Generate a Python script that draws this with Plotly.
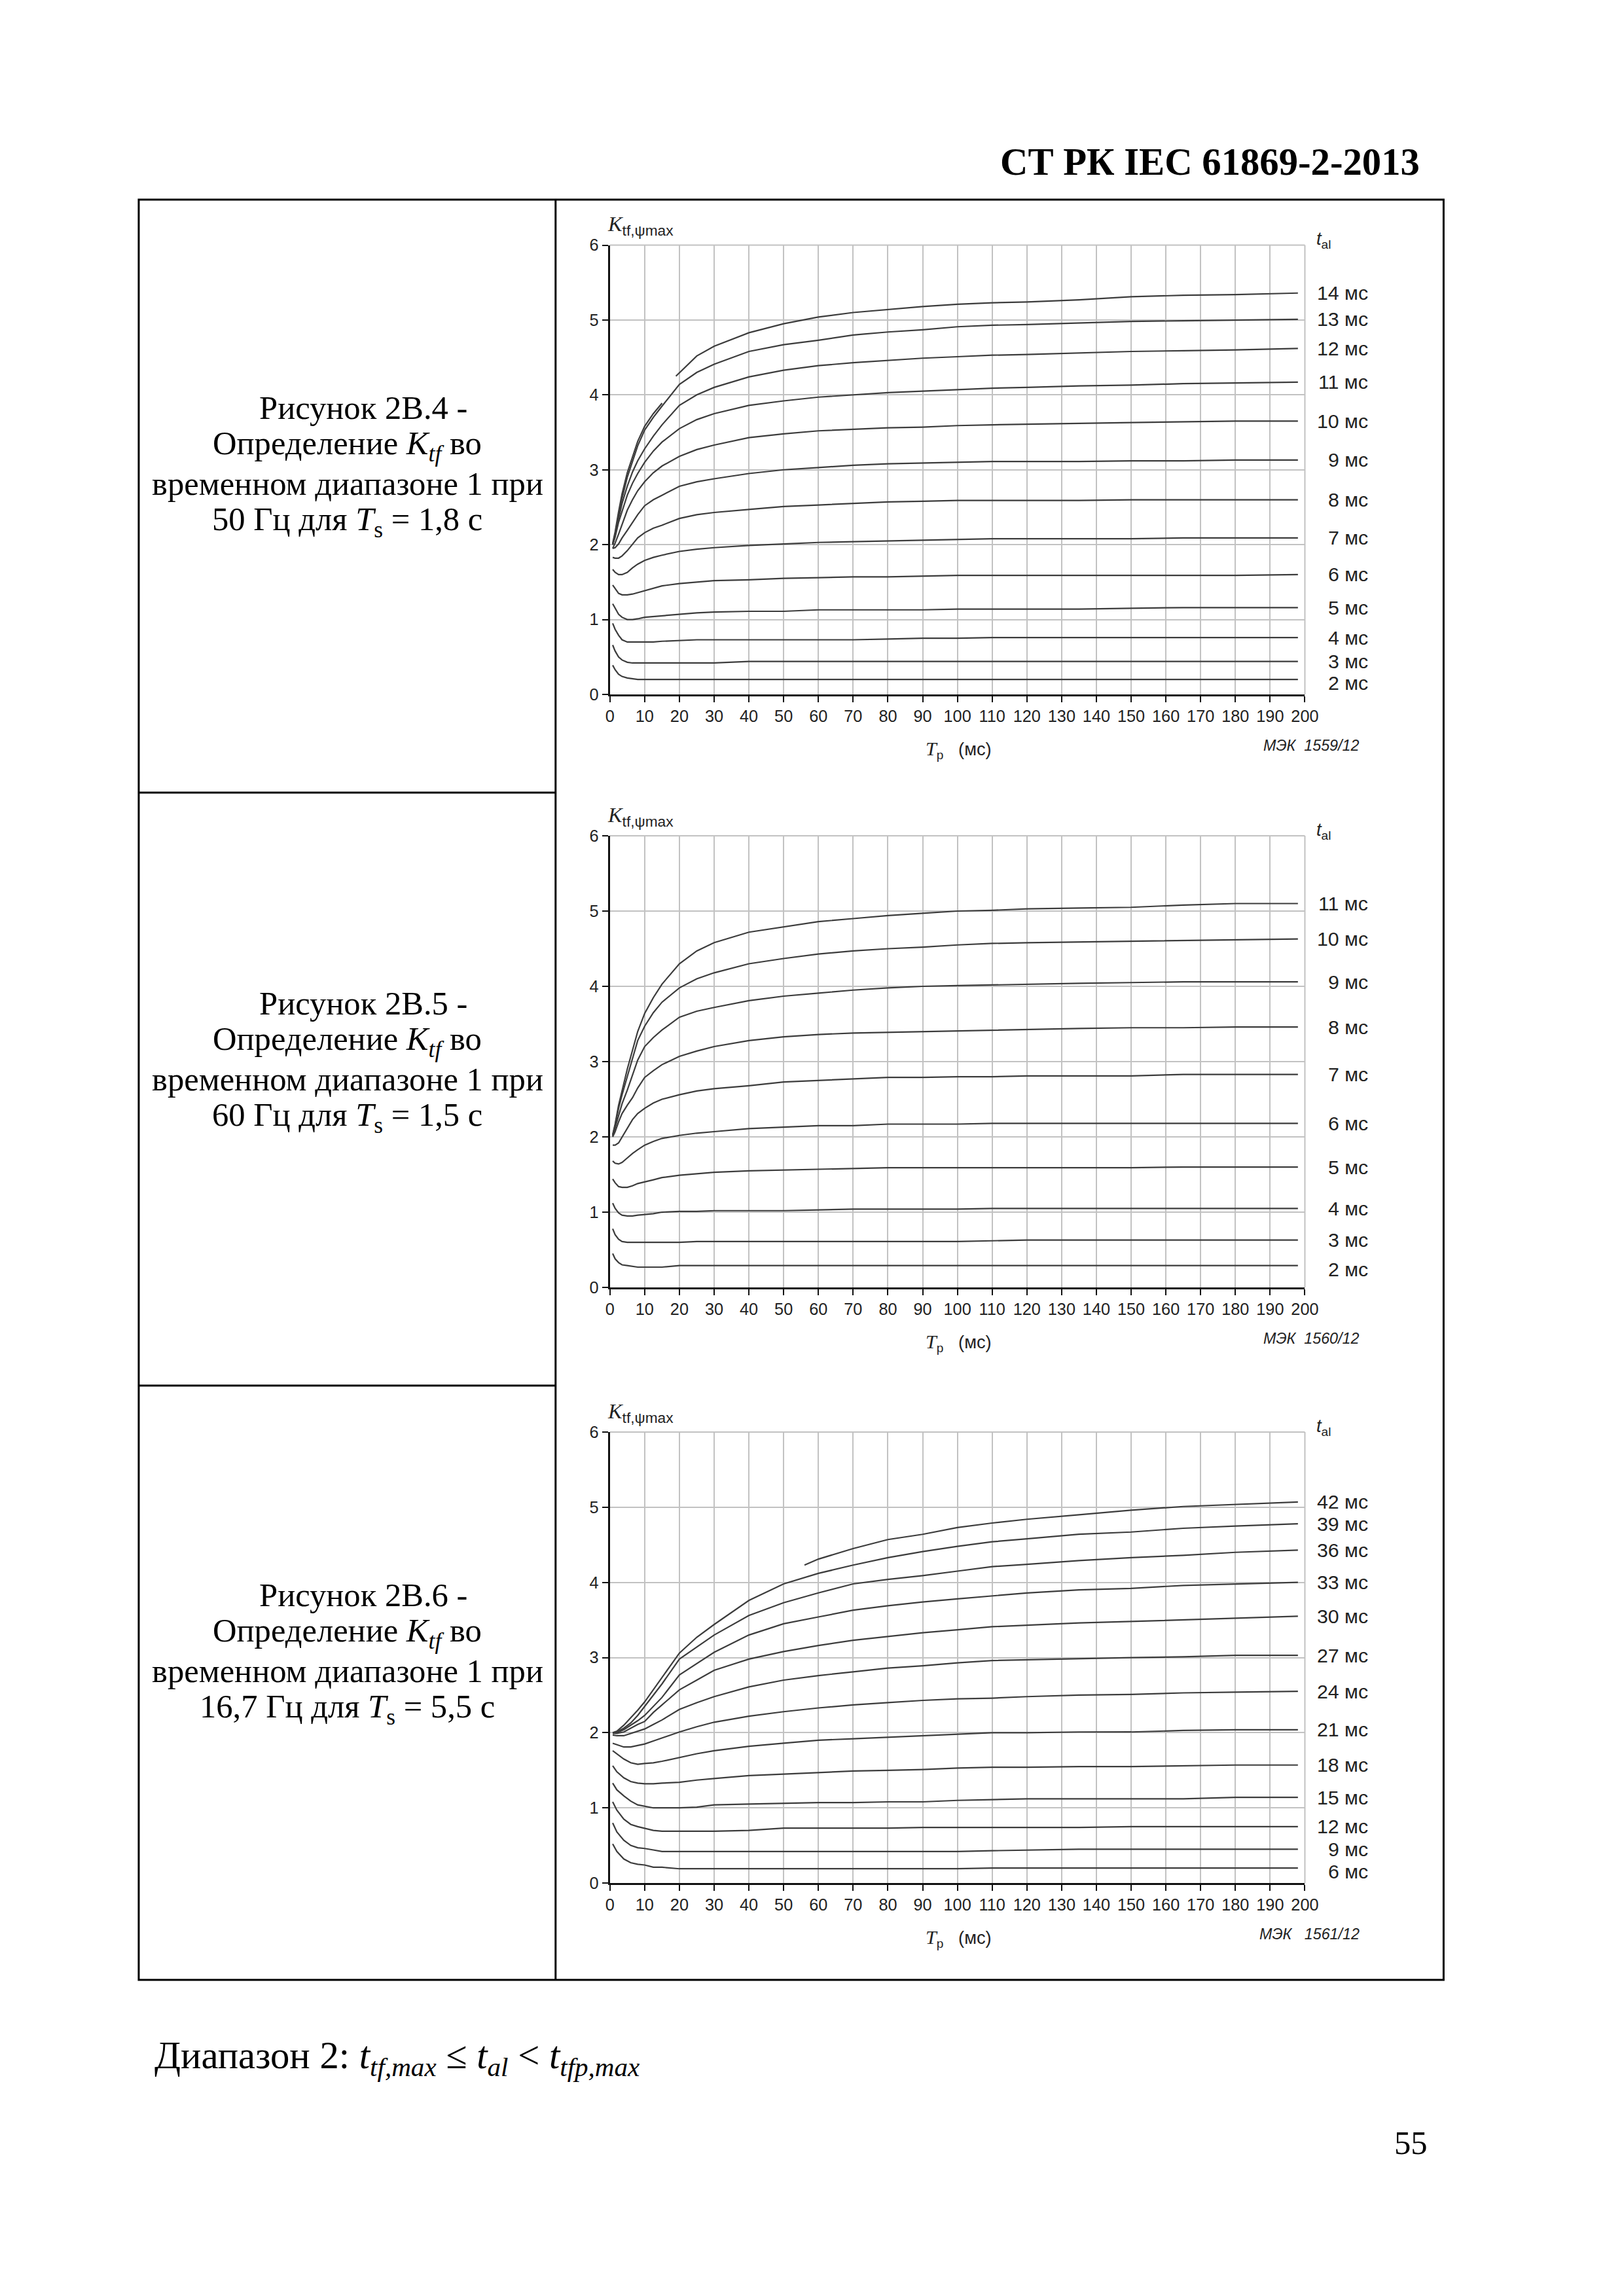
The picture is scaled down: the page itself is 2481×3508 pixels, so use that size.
import plotly.graph_objects as go

# ---------------- data ----------------
TP_TICKS = list(range(0, 201, 10))
K_TICKS = [0, 1, 2, 3, 4, 5, 6]

# common Tp grid (ms) for Fig. 2B.4 and 2B.5
TP_A = [0.8, 1.5, 2.5, 3.5, 5, 6.5, 8, 10, 12.5, 15, 20, 25, 30, 40, 50, 60, 70, 80,
        90, 100, 110, 120, 135, 150, 165, 180, 198]

# Fig 2B.4 (50 Hz, Ts = 1.8 s)
F50_LABELS = ["2 мс", "3 мс", "4 мс", "5 мс", "6 мс", "7 мс", "8 мс", "9 мс", "10 мс", "11 мс", "12 мс", "13 мс"]
F50_2 = [0.39, 0.33, 0.27, 0.24, 0.22, 0.21, 0.20, 0.20, 0.20, 0.20, 0.20, 0.20, 0.20, 0.20, 0.20, 0.20, 0.20, 0.20, 0.20, 0.20, 0.20, 0.20, 0.20, 0.20, 0.20, 0.20, 0.20]
F50_3 = [0.66, 0.58, 0.50, 0.46, 0.43, 0.42, 0.42, 0.42, 0.42, 0.42, 0.42, 0.42, 0.42, 0.44, 0.44, 0.44, 0.44, 0.44, 0.44, 0.44, 0.44, 0.44, 0.44, 0.44, 0.44, 0.44, 0.44]
F50_4 = [0.95, 0.87, 0.79, 0.73, 0.70, 0.70, 0.70, 0.70, 0.70, 0.71, 0.72, 0.73, 0.73, 0.73, 0.73, 0.73, 0.73, 0.74, 0.75, 0.75, 0.76, 0.76, 0.76, 0.76, 0.76, 0.76, 0.76]
F50_5 = [1.21, 1.15, 1.07, 1.03, 1.00, 1.00, 1.01, 1.03, 1.04, 1.05, 1.07, 1.09, 1.10, 1.11, 1.11, 1.13, 1.13, 1.13, 1.13, 1.14, 1.14, 1.14, 1.14, 1.15, 1.16, 1.16, 1.16]
F50_6 = [1.46, 1.41, 1.35, 1.33, 1.33, 1.34, 1.36, 1.39, 1.42, 1.45, 1.48, 1.50, 1.52, 1.53, 1.55, 1.56, 1.57, 1.57, 1.58, 1.59, 1.59, 1.59, 1.59, 1.59, 1.59, 1.59, 1.60]
F50_7 = [1.67, 1.63, 1.60, 1.60, 1.63, 1.69, 1.74, 1.79, 1.83, 1.86, 1.91, 1.94, 1.96, 1.99, 2.01, 2.03, 2.04, 2.05, 2.06, 2.07, 2.08, 2.08, 2.08, 2.08, 2.09, 2.09, 2.09]
F50_8 = [1.83, 1.82, 1.82, 1.85, 1.92, 2.01, 2.09, 2.16, 2.22, 2.26, 2.35, 2.40, 2.43, 2.47, 2.51, 2.53, 2.55, 2.57, 2.58, 2.59, 2.59, 2.59, 2.59, 2.60, 2.60, 2.60, 2.60]
F50_9 = [1.95, 1.96, 2.01, 2.09, 2.19, 2.30, 2.40, 2.52, 2.60, 2.66, 2.78, 2.84, 2.88, 2.95, 3.00, 3.03, 3.06, 3.08, 3.09, 3.10, 3.11, 3.11, 3.11, 3.12, 3.12, 3.13, 3.13]
F50_10 = [1.95, 2.02, 2.14, 2.27, 2.46, 2.60, 2.72, 2.84, 2.96, 3.05, 3.18, 3.27, 3.33, 3.43, 3.48, 3.52, 3.54, 3.56, 3.57, 3.59, 3.60, 3.61, 3.62, 3.63, 3.64, 3.65, 3.65]
F50_11 = [2.00, 2.10, 2.30, 2.45, 2.66, 2.82, 2.95, 3.10, 3.25, 3.37, 3.55, 3.67, 3.75, 3.86, 3.92, 3.97, 4.00, 4.03, 4.05, 4.07, 4.09, 4.10, 4.12, 4.13, 4.15, 4.16, 4.17]
F50_12 = [2.00, 2.12, 2.35, 2.55, 2.78, 2.97, 3.12, 3.28, 3.45, 3.60, 3.86, 4.00, 4.10, 4.24, 4.33, 4.39, 4.43, 4.46, 4.49, 4.51, 4.53, 4.54, 4.56, 4.58, 4.59, 4.60, 4.62]
F50_13 = [2.00, 2.14, 2.40, 2.62, 2.90, 3.12, 3.32, 3.53, 3.70, 3.85, 4.14, 4.30, 4.41, 4.58, 4.67, 4.73, 4.80, 4.84, 4.87, 4.91, 4.93, 4.94, 4.96, 4.98, 4.99, 5.00, 5.01]
# 14 ms curve: early part (runs along 13 ms) and main part from Tp = 19 ms
F50_14_TP_EARLY = [0.8, 1.5, 2.5, 3.5, 5, 6.5, 8, 10, 12.5, 15]
F50_14_EARLY = [2.02, 2.17, 2.44, 2.68, 2.96, 3.18, 3.38, 3.58, 3.75, 3.89]
F50_14_TP = [19, 21.5, 25, 30, 35, 40, 50, 60, 70, 80, 90, 100, 110, 120, 135, 150, 165, 180, 198]
F50_14 = [4.25, 4.36, 4.52, 4.65, 4.74, 4.83, 4.95, 5.04, 5.10, 5.14, 5.18, 5.21, 5.23, 5.24, 5.27, 5.31, 5.33, 5.34, 5.36]

# Fig 2B.5 (60 Hz, Ts = 1.5 s)
F60_LABELS = ["2 мс", "3 мс", "4 мс", "5 мс", "6 мс", "7 мс", "8 мс", "9 мс", "10 мс", "11 мс"]
F60_2 = [0.45, 0.38, 0.33, 0.30, 0.29, 0.28, 0.27, 0.27, 0.27, 0.27, 0.29, 0.29, 0.29, 0.29, 0.29, 0.29, 0.29, 0.29, 0.29, 0.29, 0.29, 0.29, 0.29, 0.29, 0.29, 0.29, 0.29]
F60_3 = [0.78, 0.70, 0.64, 0.61, 0.60, 0.60, 0.60, 0.60, 0.60, 0.60, 0.60, 0.61, 0.61, 0.61, 0.61, 0.61, 0.61, 0.61, 0.61, 0.61, 0.62, 0.63, 0.63, 0.63, 0.63, 0.63, 0.63]
F60_4 = [1.12, 1.05, 0.99, 0.96, 0.95, 0.95, 0.96, 0.97, 0.98, 1.00, 1.01, 1.01, 1.02, 1.02, 1.02, 1.03, 1.04, 1.04, 1.04, 1.04, 1.05, 1.05, 1.05, 1.05, 1.05, 1.05, 1.05]
F60_5 = [1.44, 1.39, 1.34, 1.33, 1.33, 1.35, 1.38, 1.40, 1.43, 1.46, 1.49, 1.51, 1.53, 1.55, 1.56, 1.57, 1.58, 1.59, 1.59, 1.59, 1.59, 1.59, 1.59, 1.59, 1.60, 1.60, 1.60]
F60_6 = [1.68, 1.65, 1.64, 1.66, 1.72, 1.78, 1.83, 1.89, 1.94, 1.98, 2.02, 2.05, 2.07, 2.11, 2.13, 2.15, 2.15, 2.17, 2.17, 2.17, 2.18, 2.18, 2.18, 2.18, 2.18, 2.18, 2.18]
F60_7 = [1.89, 1.89, 1.92, 2.00, 2.12, 2.23, 2.31, 2.38, 2.45, 2.50, 2.56, 2.61, 2.64, 2.68, 2.73, 2.75, 2.77, 2.79, 2.79, 2.80, 2.80, 2.81, 2.81, 2.81, 2.83, 2.83, 2.83]
F60_8 = [2.00, 2.07, 2.20, 2.31, 2.42, 2.52, 2.65, 2.79, 2.88, 2.96, 3.07, 3.14, 3.20, 3.28, 3.33, 3.36, 3.38, 3.39, 3.40, 3.41, 3.42, 3.43, 3.44, 3.45, 3.45, 3.46, 3.46]
F60_9 = [2.01, 2.12, 2.30, 2.44, 2.62, 2.82, 3.02, 3.20, 3.32, 3.42, 3.59, 3.67, 3.72, 3.81, 3.87, 3.91, 3.95, 3.98, 4.00, 4.01, 4.02, 4.03, 4.04, 4.05, 4.06, 4.06, 4.06]
F60_10 = [2.02, 2.15, 2.38, 2.56, 2.80, 3.05, 3.28, 3.47, 3.65, 3.79, 3.98, 4.10, 4.18, 4.30, 4.37, 4.43, 4.47, 4.50, 4.52, 4.55, 4.57, 4.58, 4.59, 4.60, 4.61, 4.62, 4.63]
F60_11 = [2.03, 2.17, 2.42, 2.62, 2.90, 3.15, 3.40, 3.64, 3.85, 4.03, 4.30, 4.47, 4.58, 4.72, 4.79, 4.86, 4.90, 4.94, 4.97, 5.00, 5.01, 5.03, 5.04, 5.05, 5.08, 5.10, 5.10]

# Fig 2B.6 (16.7 Hz, Ts = 5.5 s)
TP_C = [0.8, 2, 4, 6, 8, 10, 12.5, 15, 20, 25, 30, 40, 50, 60, 70, 80, 90, 100, 110, 120, 135, 150, 165, 180, 198]
F17_LABELS = ["6 мс", "9 мс", "12 мс", "15 мс", "18 мс", "21 мс", "24 мс", "27 мс", "30 мс", "33 мс", "36 мс", "39 мс"]
F17_6 = [0.52, 0.42, 0.32, 0.27, 0.25, 0.24, 0.21, 0.21, 0.19, 0.19, 0.19, 0.19, 0.19, 0.19, 0.19, 0.19, 0.19, 0.19, 0.20, 0.20, 0.20, 0.20, 0.20, 0.20, 0.20]
F17_9 = [0.80, 0.68, 0.57, 0.50, 0.47, 0.46, 0.44, 0.42, 0.42, 0.42, 0.42, 0.42, 0.42, 0.42, 0.42, 0.42, 0.42, 0.42, 0.43, 0.44, 0.45, 0.45, 0.45, 0.45, 0.45]
F17_12 = [1.08, 0.97, 0.85, 0.78, 0.75, 0.73, 0.70, 0.69, 0.69, 0.69, 0.69, 0.70, 0.73, 0.73, 0.73, 0.73, 0.74, 0.74, 0.74, 0.74, 0.74, 0.75, 0.75, 0.75, 0.75]
F17_15 = [1.33, 1.24, 1.16, 1.09, 1.04, 1.02, 1.00, 1.00, 1.00, 1.01, 1.04, 1.05, 1.06, 1.07, 1.07, 1.08, 1.08, 1.10, 1.11, 1.12, 1.12, 1.12, 1.12, 1.14, 1.14]
F17_18 = [1.56, 1.48, 1.40, 1.35, 1.33, 1.32, 1.32, 1.33, 1.34, 1.37, 1.39, 1.43, 1.45, 1.47, 1.49, 1.50, 1.51, 1.53, 1.54, 1.54, 1.55, 1.55, 1.56, 1.57, 1.57]
F17_21 = [1.76, 1.72, 1.65, 1.60, 1.58, 1.59, 1.60, 1.62, 1.67, 1.72, 1.76, 1.82, 1.86, 1.90, 1.92, 1.94, 1.96, 1.98, 2.00, 2.00, 2.01, 2.01, 2.03, 2.04, 2.04]
F17_24 = [1.86, 1.84, 1.81, 1.81, 1.83, 1.85, 1.89, 1.93, 2.01, 2.08, 2.14, 2.22, 2.28, 2.33, 2.37, 2.40, 2.43, 2.45, 2.46, 2.48, 2.50, 2.51, 2.53, 2.54, 2.55]
F17_27 = [1.97, 1.96, 1.96, 1.99, 2.02, 2.05, 2.11, 2.17, 2.31, 2.40, 2.48, 2.61, 2.70, 2.76, 2.81, 2.86, 2.89, 2.93, 2.96, 2.97, 2.99, 3.00, 3.01, 3.03, 3.03]
F17_30 = [1.99, 1.99, 2.01, 2.06, 2.11, 2.15, 2.27, 2.37, 2.57, 2.70, 2.83, 2.98, 3.08, 3.16, 3.23, 3.28, 3.33, 3.37, 3.41, 3.43, 3.46, 3.48, 3.50, 3.52, 3.55]
F17_33 = [2.00, 2.00, 2.04, 2.10, 2.16, 2.23, 2.35, 2.47, 2.77, 2.92, 3.07, 3.30, 3.45, 3.54, 3.63, 3.69, 3.74, 3.78, 3.82, 3.86, 3.90, 3.92, 3.96, 3.98, 4.00]
F17_36 = [2.00, 2.01, 2.06, 2.13, 2.23, 2.35, 2.50, 2.65, 2.98, 3.14, 3.30, 3.56, 3.73, 3.86, 3.98, 4.04, 4.09, 4.15, 4.21, 4.24, 4.29, 4.33, 4.36, 4.40, 4.43]
F17_39 = [2.00, 2.02, 2.10, 2.20, 2.30, 2.41, 2.57, 2.73, 3.06, 3.27, 3.44, 3.76, 3.98, 4.12, 4.23, 4.33, 4.41, 4.48, 4.54, 4.58, 4.64, 4.67, 4.72, 4.75, 4.78]
F17_42_TP = [56, 60, 70, 80, 90, 100, 110, 120, 135, 150, 165, 180, 198]
F17_42 = [4.23, 4.31, 4.45, 4.57, 4.64, 4.73, 4.79, 4.84, 4.90, 4.96, 5.01, 5.04, 5.07]

FIG_CODES = ["МЭК  1559/12", "МЭК  1560/12", "МЭК   1561/12"]
CAPTIONS = [
    ["Рисунок 2В.4 -", "Определение <i>K</i><sub><i>tf</i></sub> во", "временном диапазоне 1 при",
     "50 Гц для <i>T</i><sub>s</sub> = 1,8 с"],
    ["Рисунок 2В.5 -", "Определение <i>K</i><sub><i>tf</i></sub> во", "временном диапазоне 1 при",
     "60 Гц для <i>T</i><sub>s</sub> = 1,5 с"],
    ["Рисунок 2В.6 -", "Определение <i>K</i><sub><i>tf</i></sub> во", "временном диапазоне 1 при",
     "16,7 Гц для <i>T</i><sub>s</sub> = 5,5 с"],
]

# ---------------- layout geometry (target page pixels) ----------------
# Measured in earlier renders: a figure pixel p lands on the page at about
# S*p + O (page margin plus a slight shrink), so target page positions are
# mapped back through that relation.
W, H = 2380, 3380
SX, OX = 0.9885, 7.0
SY, OY = 0.9917, 13.0
def fx(p): return ((p - OX) / SX) / W
def fy(p): return 1 - ((p - OY) / SY) / H
FS = 1.0 / SX   # font / size compensation

X_L, X_R = 932, 1994
PANELS = [(373.5, 1060), (1276, 1966), (2187, 2876)]   # (y of K=6, y of K=0)
TAB_L, TAB_R, TAB_T, TAB_B, TAB_MID = 212, 2206, 304, 3024, 849
ROW_LINES = [1210, 2116]
CAP_TOP = [622, 1532, 2436]

SANS = "Liberation Sans, Arial, sans-serif"
SERIF = "Liberation Serif, Times New Roman, serif"
LINE_COL = "#3c3c3c"
GRID_COL = "#c2c2c2"

fig = go.Figure()

def add_curve(i, xs, ys):
    ax = "" if i == 0 else str(i + 1)
    fig.add_trace(go.Scatter(x=xs, y=ys, mode="lines", xaxis="x" + ax, yaxis="y" + ax,
                             line=dict(color=LINE_COL, width=2.2), showlegend=False,
                             hoverinfo="skip"))

panel_series = [
    [(TP_A, s) for s in [F50_2, F50_3, F50_4, F50_5, F50_6, F50_7, F50_8, F50_9, F50_10, F50_11, F50_12, F50_13]]
    + [(F50_14_TP_EARLY, F50_14_EARLY), (F50_14_TP, F50_14)],
    [(TP_A, s) for s in [F60_2, F60_3, F60_4, F60_5, F60_6, F60_7, F60_8, F60_9, F60_10, F60_11]],
    [(TP_C, s) for s in [F17_6, F17_9, F17_12, F17_15, F17_18, F17_21, F17_24, F17_27, F17_30, F17_33, F17_36, F17_39]]
    + [(F17_42_TP, F17_42)],
]
panel_labels = [
    list(zip(F50_LABELS + ["14 мс"], [s[-1] for s in [F50_2, F50_3, F50_4, F50_5, F50_6, F50_7, F50_8, F50_9, F50_10, F50_11, F50_12, F50_13, F50_14]])),
    list(zip(F60_LABELS, [s[-1] for s in [F60_2, F60_3, F60_4, F60_5, F60_6, F60_7, F60_8, F60_9, F60_10, F60_11]])),
    list(zip(F17_LABELS + ["42 мс"], [s[-1] for s in [F17_6, F17_9, F17_12, F17_15, F17_18, F17_21, F17_24, F17_27, F17_30, F17_33, F17_36, F17_39, F17_42]])),
]

for i, series in enumerate(panel_series):
    for xs, ys in series:
        add_curve(i, xs, ys)

layout = dict(width=W, height=H, margin=dict(l=0, r=0, t=0, b=0, pad=0),
              paper_bgcolor="white", plot_bgcolor="white", showlegend=False)
annotations = []
shapes = []

def fs(v):
    return round(v * FS, 1)

for i, (y6, y0) in enumerate(PANELS):
    ax = "" if i == 0 else str(i + 1)
    layout["xaxis" + ax] = dict(
        domain=[fx(X_L), fx(X_R)], range=[0, 200], anchor="y" + ax,
        tickmode="array", tickvals=TP_TICKS, ticktext=[str(t) for t in TP_TICKS],
        showgrid=True, gridcolor=GRID_COL, gridwidth=2, zeroline=False,
        showline=True, linecolor="#111", linewidth=3, mirror=False,
        ticks="outside", ticklen=9, tickwidth=2, tickcolor="#111",
        tickfont=dict(family=SANS, size=fs(25), color="#222"), fixedrange=True)
    layout["yaxis" + ax] = dict(
        domain=[fy(y0), fy(y6)], range=[0, 6], anchor="x" + ax,
        tickmode="array", tickvals=K_TICKS, ticktext=[str(t) for t in K_TICKS],
        showgrid=True, gridcolor=GRID_COL, gridwidth=2, zeroline=False,
        showline=True, linecolor="#111", linewidth=3, mirror=False,
        ticks="outside", ticklen=9, tickwidth=2, tickcolor="#111",
        tickfont=dict(family=SANS, size=fs(25), color="#222"), fixedrange=True)
    # grey frame on top and right of plot area
    shapes.append(dict(type="line", xref="paper", yref="paper", x0=fx(X_L), x1=fx(X_R),
                       y0=fy(y6), y1=fy(y6), line=dict(color=GRID_COL, width=2), layer="below"))
    shapes.append(dict(type="line", xref="paper", yref="paper", x0=fx(X_R), x1=fx(X_R),
                       y0=fy(y6), y1=fy(y0), line=dict(color=GRID_COL, width=2), layer="below"))
    # y-axis title
    annotations.append(dict(xref="paper", yref="paper", x=fx(926), y=fy(y6 - 30),
                            xanchor="left", yanchor="middle", showarrow=False,
                            text='<span style="font-family:Liberation Serif"><i>K</i></span><sub>tf,ψmax</sub>',
                            font=dict(family=SANS, size=fs(32), color="#222")))
    # t_al header
    annotations.append(dict(xref="paper", yref="paper", x=fx(2010), y=fy(y6 - 8),
                            xanchor="left", yanchor="middle", showarrow=False,
                            text='<i>t</i><sub>al</sub>',
                            font=dict(family=SANS, size=fs(27), color="#222")))
    # x-axis title
    annotations.append(dict(xref="paper", yref="paper", x=fx(1465), y=fy(y0 + 84),
                            xanchor="center", yanchor="middle", showarrow=False,
                            text='<span style="font-family:Liberation Serif;font-size:30px"><i>T</i></span><sub>p</sub>\u00a0\u00a0\u00a0(мс)',
                            font=dict(family=SANS, size=fs(27), color="#222")))
    # figure code
    annotations.append(dict(xref="paper", yref="paper", x=fx(2080), y=fy(y0 + 78),
                            xanchor="right", yanchor="middle", showarrow=False,
                            text="<i>" + FIG_CODES[i].replace(" ", "\u00a0") + "</i>",
                            font=dict(family=SANS, size=fs(23), color="#222")))
    # curve labels (right of the plot area), placed at each curve's end value
    px_per_unit = (y0 - y6) / 6.0
    for j, (txt, yv) in enumerate(panel_labels[i]):
        off = -0.05 if j == 0 else 0.0
        annotations.append(dict(xref="paper", yref="paper",
                                x=fx(2093), y=fy(y0 - (yv + off) * px_per_unit),
                                xanchor="right", yanchor="middle", showarrow=False,
                                text=txt, font=dict(family=SANS, size=fs(30), color="#222")))
    # caption text in the left column
    for k, line in enumerate(CAPTIONS[i]):
        cx = 555 if k == 0 else 531
        annotations.append(dict(xref="paper", yref="paper", x=fx(cx), y=fy(CAP_TOP[i] + 58 * k),
                                xanchor="center", yanchor="middle", showarrow=False,
                                text=line, font=dict(family=SERIF, size=fs(50), color="black")))

# table frame
shapes.append(dict(type="rect", xref="paper", yref="paper", x0=fx(TAB_L), x1=fx(TAB_R),
                   y0=fy(TAB_B), y1=fy(TAB_T), line=dict(color="black", width=3)))
shapes.append(dict(type="line", xref="paper", yref="paper", x0=fx(TAB_MID), x1=fx(TAB_MID),
                   y0=fy(TAB_B), y1=fy(TAB_T), line=dict(color="black", width=3)))
for yl in ROW_LINES:
    shapes.append(dict(type="line", xref="paper", yref="paper", x0=fx(TAB_L), x1=fx(TAB_MID),
                       y0=fy(yl), y1=fy(yl), line=dict(color="black", width=3)))

# page header, footer text, page number
annotations.append(dict(xref="paper", yref="paper", x=fx(2172), y=fy(246), xanchor="right",
                        yanchor="middle", showarrow=False, text="<b>СТ РК IEC 61869-2-2013</b>",
                        font=dict(family=SERIF, size=fs(58), color="black")))
annotations.append(dict(xref="paper", yref="paper", x=fx(234), y=fy(3143), xanchor="left",
                        yanchor="middle", showarrow=False,
                        text="Диапазон 2: <i>t</i><sub><i>tf,max</i></sub> ≤ <i>t</i><sub><i>al</i></sub> &lt; <i>t</i><sub><i>tfp,max</i></sub>",
                        font=dict(family=SERIF, size=fs(58), color="black")))
annotations.append(dict(xref="paper", yref="paper", x=fx(2156), y=fy(3273), xanchor="center",
                        yanchor="middle", showarrow=False, text="55",
                        font=dict(family=SERIF, size=fs(50), color="black")))

layout["annotations"] = annotations
layout["shapes"] = shapes
fig.update_layout(**layout)
fig.write_html("out.html")
